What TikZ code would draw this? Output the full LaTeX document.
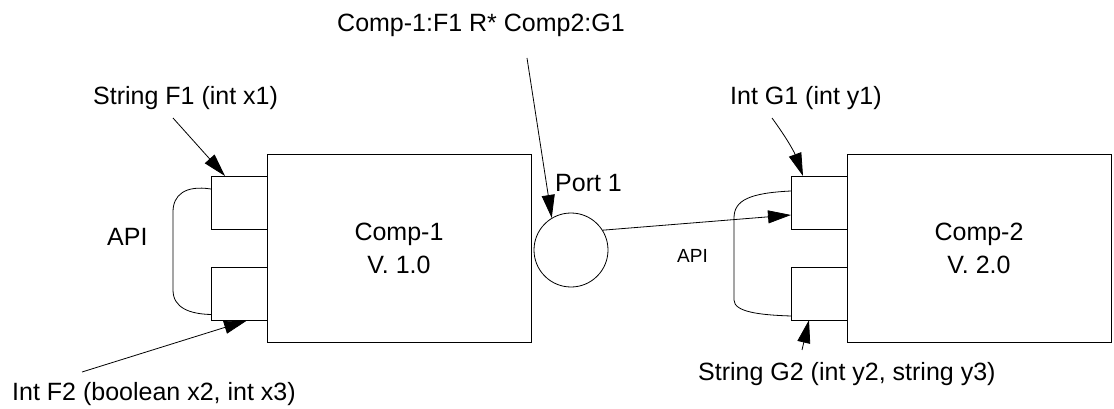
\documentclass[tikz,border=0pt]{standalone}
\usepackage{fontspec}
\setmainfont{Liberation Sans}
\usetikzlibrary{arrows.meta,calc}
\begin{document}
\begin{tikzpicture}[x=1pt,y=-1pt,
  lbl/.style={font=\fontsize{25}{30}\selectfont, inner sep=0pt},
  smalllbl/.style={font=\fontsize{19}{23}\selectfont, inner sep=0pt},
  compbox/.style={draw, line width=0.9pt, minimum width=264pt, minimum height=188pt, inner sep=0pt, outer sep=0pt, align=center, font=\fontsize{25}{33}\selectfont},
  portbox/.style={draw, line width=0.9pt, minimum width=56pt, minimum height=53pt, inner sep=0pt, outer sep=0pt},
  callout/.style={line width=0.8pt, -{Triangle[length=23pt,width=13pt]}},
  apiline/.style={line width=0.8pt}]
\useasboundingbox (0,0) rectangle (1114,409);
% components and ports
\node[compbox] (c1) at (399,248) {Comp-1\\V. 1.0};
\node[portbox] (p1a) at (239,202.5) {};
\node[portbox] (p1b) at (239,294) {};
\node[compbox] (c2) at (979,248) {Comp-2\\V. 2.0};
\node[portbox] (p2a) at (819,202.5) {};
\node[portbox] (p2b) at (819,293.5) {};
\node[draw, circle, minimum size=74pt, inner sep=0pt, line width=0.8pt] (port) at (571,250) {};
% labels
\node[lbl, anchor=base west] (lf1) at (93,105) {String F1 (int x1)};
\node[lbl, anchor=base west] (lf2) at (12,400) {Int F2 (boolean x2, int x3)};
\node[lbl, anchor=base west] (lg1) at (730,105) {Int G1 (int y1)};
\node[lbl, anchor=base west] (lg2) at (698,380) {String G2 (int y2, string y3)};
\node[lbl, anchor=base east] (lr) at (625,32) {Comp-1:F1 R* Comp2:G1};
\node[lbl, anchor=base west] (lport) at (555,192) {Port 1};
\node[lbl, anchor=base west] (lapi1) at (107,245) {API};
\node[smalllbl, anchor=base west] (lapi2) at (677,262) {API};
% callout starts
\coordinate (tc) at (527,58);
\coordinate (f1c) at (173,118);
\coordinate (f2c) at (82,372);
\coordinate (g1c) at (772,118);
\coordinate (g2c) at (802,350);
% connectors
\draw[callout] (port.32) -- ($(p2a.north west)+(0,39)$);
\draw[callout] (tc) -- (port.121);
\draw[callout] (f1c) -- ($(p1a.north west)+(14,0)$);
\draw[callout] (f2c) -- ($(p1b.south west)+(36,0)$);
\draw[callout] (g1c) to[bend left=8] ($(p2a.north west)+(12,0)$);
\draw[callout] (g2c) -- ($(p2b.south west)+(18,0)$);
% API curves
\draw[apiline] ($(p1a.north west)+(0,13)$) .. controls (185,185) and (173,195) .. (173,212) -- (173,290) .. controls (173,308) and (190,314) .. ($(p1b.south west)+(0,-6)$);
\draw[apiline] ($(p2a.north west)+(0,15)$) .. controls (750,193) and (734,200) .. (734,218) -- (734,300) .. controls (734,312) and (760,315) .. ($(p2b.south west)+(0,-4)$);
\end{tikzpicture}
\end{document}
